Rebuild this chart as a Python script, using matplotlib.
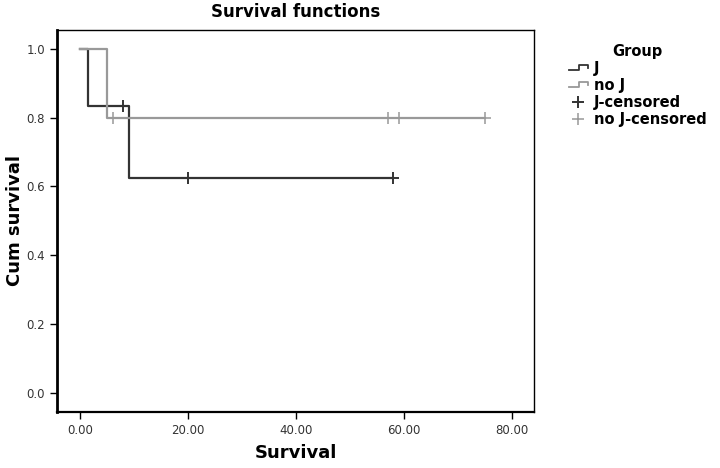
import matplotlib.pyplot as plt
from matplotlib.lines import Line2D
from matplotlib.legend_handler import HandlerBase

# Kaplan-Meier steps
j_time = [0, 1.5, 9, 58]
j_surv = [1.0, 0.833, 0.625, 0.625]
noj_time = [0, 5, 75]
noj_surv = [1.0, 0.8, 0.8]

# censored points
j_cens_t = [8, 20, 58]
j_cens_s = [0.833, 0.625, 0.625]
noj_cens_t = [6, 57, 59, 75]
noj_cens_s = [0.8, 0.8, 0.8, 0.8]

x_ticks = [0, 20, 40, 60, 80]
y_ticks = [0.0, 0.2, 0.4, 0.6, 0.8, 1.0]

dark = "#333333"
grey = "#999999"


class StepHandler(HandlerBase):
    def create_artists(self, legend, orig, xd, yd, width, height, fontsize, trans):
        xs = [xd, xd + width * 0.55, xd + width * 0.55, xd + width, xd + width]
        ys = [yd + height * 0.25, yd + height * 0.25, yd + height * 0.8,
              yd + height * 0.8, yd + height * 0.45]
        ln = Line2D(xs, ys, color=orig.get_color(), lw=1.3, transform=trans)
        return [ln]


fig = plt.figure(figsize=(7.2, 4.68), dpi=100)
ax = fig.add_axes([0.079, 0.12, 0.663, 0.816])

l1, = ax.step(j_time, j_surv, where="post", color=dark, lw=1.6)
l2, = ax.step(noj_time, noj_surv, where="post", color=grey, lw=1.6)
m1, = ax.plot(j_cens_t, j_cens_s, ls="none", marker="+", ms=9, mew=1.4, color=dark)
m2, = ax.plot(noj_cens_t, noj_cens_s, ls="none", marker="+", ms=9, mew=1.1, color=grey)

ax.set_xlim(-4.3, 84.1)
ax.set_ylim(-0.055, 1.055)
ax.set_xticks(x_ticks)
ax.set_xticklabels([f"{v:.2f}" for v in x_ticks])
ax.set_yticks(y_ticks)
ax.set_yticklabels([f"{v:.1f}" for v in y_ticks])
ax.tick_params(direction="out", length=5, width=1, labelsize=8.5, colors="black",
               labelcolor="#333333")
for s in ax.spines.values():
    s.set_linewidth(1.0)
ax.spines["left"].set_linewidth(2.0)
ax.spines["bottom"].set_linewidth(1.6)

ax.set_title("Survival functions", fontsize=12, fontweight="bold", pad=9)
ax.set_xlabel("Survival", fontsize=13, fontweight="bold", labelpad=5)
ax.set_ylabel("Cum survival", fontsize=13, fontweight="bold", labelpad=2)

leg = fig.legend([l1, l2, m1, m2], ["J", "no J", "J-censored", "no J-censored"],
                 handler_map={l1: StepHandler(), l2: StepHandler()},
                 loc="upper left", bbox_to_anchor=(0.772, 0.935), frameon=False,
                 title="Group", handlelength=1.3, handletextpad=0.4,
                 labelspacing=0.15, prop={"weight": "bold", "size": 10.5},
                 title_fontproperties={"weight": "bold", "size": 10.5})

fig.savefig("out.png", dpi=100)
